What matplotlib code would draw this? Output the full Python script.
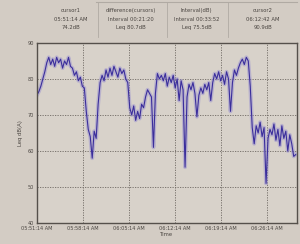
import numpy as np
import matplotlib
matplotlib.use("Agg")
import matplotlib.pyplot as plt
from matplotlib.lines import Line2D

# Leq readings, one every 18 s (0.3 min)
leq = [75.5, 76.5, 78, 80, 82,
       84.5, 86, 84, 85.5, 83.5, 86, 84.5, 85.5, 83, 85, 84, 86, 83.5,
       83, 81, 82, 79.5, 80.5, 78, 77.5,
       71, 66, 64, 58, 65.5, 63.5,
       73,
       79, 81, 79.5, 82.5, 80.5, 83, 81, 83.5, 82, 80.5, 83, 81.5, 82.5, 80, 79,
       72, 70, 72.5, 68.5, 71, 69, 73, 72, 75, 77, 76, 75,
       61,
       76, 81.5, 80, 81, 79.5, 81.5, 78, 80.5, 79, 81, 77.5, 80, 74, 79.5, 77,
       55.5,
       75, 78.5, 77, 79, 76, 69.5, 75.5, 77.5, 76, 78.5, 77, 79, 74,
       79, 81.5, 80, 82, 79.5, 81, 78.5, 82, 80, 71, 79, 82.5, 81, 83, 84.5, 85.5, 84, 86, 85,
       78,
       66.5, 62, 67, 65, 68, 64, 66.5, 51, 63.5, 66, 64.5, 67.5, 63, 66, 61.5, 67,
       63.5, 65.5, 60, 64.5, 62, 58.5, 59]
minutes = np.arange(len(leq)) * 0.3

tick_min = [0, 7, 14, 21, 28, 35]
tick_lbl = ["05:51:14 AM", "05:58:14 AM", "06:05:14 AM", "06:12:14 AM",
            "06:19:14 AM", "06:26:14 AM"]
y_ticks = [40, 50, 60, 70, 80, 90]

header = [("cursor1", "05:51:14 AM", "74.2dB"),
          ("difference(cursors)", "Interval 00:21:20", "Leq 80.7dB"),
          ("Interval(dB)", "Interval 00:33:52", "Leq 75.5dB"),
          ("cursor2", "06:12:42 AM", "90.9dB")]
header_x = [0.235, 0.435, 0.655, 0.875]
sep_x = [0.325, 0.555, 0.76]

bg = "#d3ccc4"
txt = "#4a4541"

fig = plt.figure(figsize=(3.0, 2.44), dpi=100, facecolor=bg)
ax = fig.add_axes([0.123, 0.086, 0.867, 0.738], facecolor="#d8d2ca")

ax.plot(minutes, leq, color="#8a80d0", lw=2.8, alpha=0.4, solid_joinstyle="round")
ax.plot(minutes, leq, color="#3b2e9c", lw=0.8, solid_joinstyle="round")

ax.set_xlim(0, 39.5)
ax.set_ylim(40, 90)
ax.set_xticks(tick_min)
ax.set_xticklabels(tick_lbl)
ax.set_yticks(y_ticks)
ax.tick_params(labelsize=3.6, colors=txt, length=0, pad=2)
ax.grid(True, color="#6e6862", ls=(0, (1.5, 1.5)), lw=0.6)
for s in ax.spines.values():
    s.set_color("#55504b")
    s.set_linewidth(1.0)
ax.set_xlabel("Time", fontsize=3.8, color=txt, labelpad=1)
ax.set_ylabel("Leq dB(A)", fontsize=3.8, color=txt, labelpad=3)

for xc, lines in zip(header_x, header):
    for k, s in enumerate(lines):
        fig.text(xc, 0.955 - k * 0.033, s, ha="center", va="center",
                 fontsize=3.8, color=txt)
for xs in sep_x:
    fig.add_artist(Line2D([xs, xs], [0.85, 0.99], color="#b0aaa3", lw=0.6))
fig.add_artist(Line2D([0.32, 0.99], [0.99, 0.99], color="#b0aaa3", lw=0.8))

fig.savefig("out.png", dpi=100, facecolor=bg)
